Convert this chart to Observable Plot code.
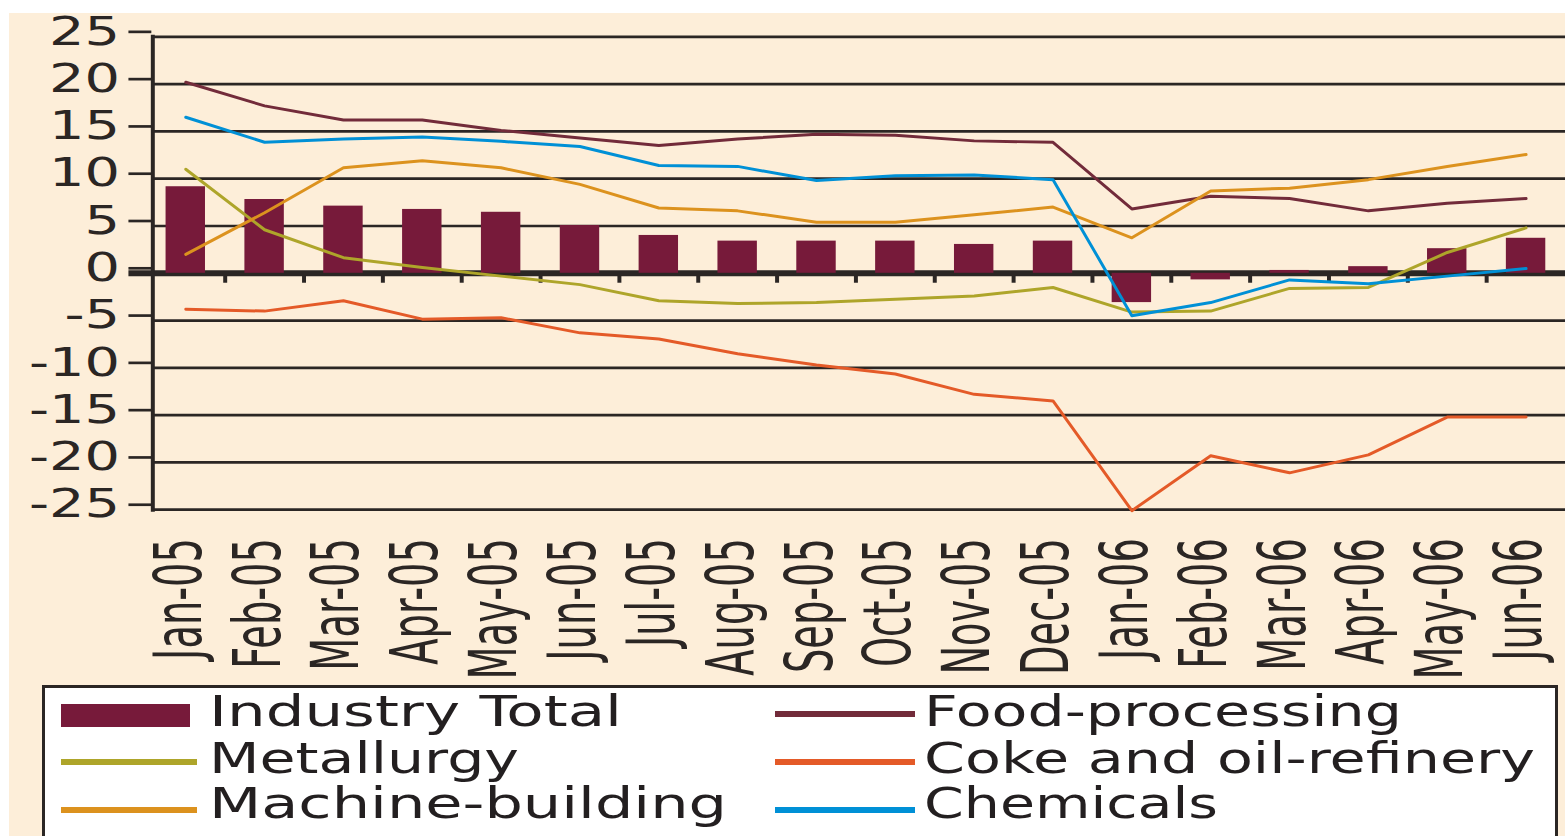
<!DOCTYPE html>
<html><head><meta charset="utf-8">
<script src="https://cdn.jsdelivr.net/npm/d3@7"></script>
<script src="https://cdn.jsdelivr.net/npm/@observablehq/plot@0.6"></script>
<style>
html,body{margin:0;padding:0;background:#fff;overflow:hidden;width:1565px;height:836px;}
#bg{position:absolute;left:9px;top:13px;width:1556px;height:823px;background:#fdeed9;}
#chart{position:absolute;left:0;top:0;}
#legend{position:absolute;left:0;top:0;}
</style></head><body>
<div id="bg"></div><div id="chart"></div><svg id="legend"></svg>
<script>
const months = ["Jan-05","Feb-05","Mar-05","Apr-05","May-05","Jun-05","Jul-05","Aug-05","Sep-05","Oct-05","Nov-05","Dec-05","Jan-06","Feb-06","Mar-06","Apr-06","May-06","Jun-06"];
const industryTotal = [9.15, 7.8, 7.1, 6.75, 6.45, 5.05, 4.0, 3.4, 3.4, 3.4, 3.05, 3.4, -3.1, -0.7, 0.3, 0.7, 2.6, 3.7];
const foodProcessing = [20.2, 17.7, 16.2, 16.2, 15.1, 14.3, 13.5, 14.2, 14.7, 14.6, 14.0, 13.85, 6.8, 8.15, 7.9, 6.6, 7.4, 7.9];
const metallurgy = [11.0, 4.6, 1.65, 0.6, -0.3, -1.2, -2.9, -3.2, -3.1, -2.75, -2.4, -1.5, -4.1, -4.0, -1.6, -1.5, 2.2, 4.8];
const cokeOil = [-3.8, -4.0, -2.9, -4.85, -4.7, -6.3, -6.95, -8.5, -9.7, -10.65, -12.8, -13.5, -25.1, -19.3, -21.1, -19.2, -15.2, -15.2];
const machineBuilding = [2.0, 6.4, 11.15, 11.9, 11.15, 9.4, 6.9, 6.6, 5.4, 5.4, 6.2, 7.0, 3.75, 8.7, 9.0, 9.9, 11.3, 12.55];
const chemicals = [16.5, 13.85, 14.2, 14.4, 13.95, 13.4, 11.4, 11.3, 9.8, 10.3, 10.4, 9.9, -4.5, -3.1, -0.7, -1.1, -0.3, 0.5];
const yTicks = [-25, -20, -15, -10, -5, 0, 5, 10, 15, 20, 25];

const seriesNames = ["Food-processing", "Metallurgy", "Coke and oil-refinery", "Machine-building", "Chemicals"];
const seriesValues = [foodProcessing, metallurgy, cokeOil, machineBuilding, chemicals];
const seriesColors = ["#722b3a", "#aea52a", "#e45a28", "#dc921e", "#0090d6"];
const barName = "Industry Total";
const barColor = "#771a3a";
const ink = "#2b2624";

const rows = [];
seriesValues.forEach((vals, s) => vals.forEach((v, i) => rows.push({month: months[i], value: v, series: seriesNames[s]})));
const bars = months.map((m, i) => ({month: m, value: industryTotal[i]}));

const xRange = [146.5, 1572];
const step = (xRange[1] - xRange[0]) / months.length;

const chart = Plot.plot({
  width: 1572, height: 680,
  marginLeft: 152, marginRight: 0, marginTop: 36.5, marginBottom: 168.5,
  style: {background: "transparent", fontFamily: "DejaVu Sans", color: ink, overflow: "visible"},
  x: {type: "band", domain: months, range: xRange, paddingInner: 0.5, paddingOuter: 0.25, round: false},
  y: {domain: [-25, 25]},
  color: {domain: seriesNames, range: seriesColors},
  marks: [
    Plot.gridY(yTicks, {stroke: ink, strokeOpacity: 1, strokeWidth: 2.7}),
    Plot.axisY(yTicks, {tickSize: 23, tickPadding: 9, fontSize: 40, strokeWidth: 2.7, stroke: ink, fill: ink, tickFormat: d => String(d), dy: -5, label: null}),
    Plot.ruleY([0], {stroke: ink, strokeWidth: 6, insetLeft: -23}),
    Plot.ruleX(months.slice(1), {x: d => d, y1: 0, y2: 0, dx: -step / 2, insetTop: 3, insetBottom: -10, stroke: ink, strokeWidth: 4}),
    Plot.frame({anchor: "left", stroke: ink, strokeWidth: 4, dx: 1}),
    Plot.barY(bars, {x: "month", y: "value", fill: barColor}),
    Plot.lineY(rows, {x: "month", y: "value", stroke: "series", z: "series", strokeWidth: 3, curve: "linear", strokeLinejoin: "round"}),
    Plot.axisX({tickSize: 0, tickPadding: 28.5, tickRotate: -90, fontSize: 47, dx: -6, fill: ink, label: null})
  ]
});
document.getElementById("chart").appendChild(chart);

// stretch tick labels like the reference
d3.select(chart).selectAll('g[aria-label="x-axis tick label"] text').each(function() {
  const t = this.getAttribute("transform") || "";
  this.setAttribute("transform", t + " scale(0.82,1.4)");
});
d3.select(chart).selectAll('g[aria-label="y-axis tick label"] text').each(function() {
  const t = this.getAttribute("transform") || "";
  this.setAttribute("transform", t + " scale(1.4,1)");
});

// legend
const lg = d3.select("#legend").attr("width", 1565).attr("height", 836);
lg.append("rect").attr("x", 43.5).attr("y", 686.5).attr("width", 1513).attr("height", 220)
  .attr("fill", "#fff").attr("stroke", ink).attr("stroke-width", 3);
const legendNames = [barName, "Food-processing", "Metallurgy", "Coke and oil-refinery", "Machine-building", "Chemicals"];
const legendColors = [barColor, seriesColors[0], seriesColors[1], seriesColors[2], seriesColors[3], seriesColors[4]];
const textWidths = {"Industry Total": 413, "Food-processing": 478, "Metallurgy": 310, "Coke and oil-refinery": 611, "Machine-building": 518, "Chemicals": 294};
const colX = [61, 775], colLen = [136, 140], colText = [209, 924];
const rowY = [714, 762, 810], rowBase = [726, 773, 818];
legendNames.forEach((name, k) => {
  const c = k % 2, r = Math.floor(k / 2);
  if (k === 0) {
    lg.append("rect").attr("x", 61).attr("y", 704).attr("width", 129).attr("height", 23).attr("fill", legendColors[k]);
  } else {
    lg.append("line").attr("x1", colX[c]).attr("x2", colX[c] + colLen[c]).attr("y1", rowY[r]).attr("y2", rowY[r])
      .attr("stroke", legendColors[k]).attr("stroke-width", 6);
  }
  lg.append("text").attr("x", colText[c]).attr("y", rowBase[r]).attr("font-family", "DejaVu Sans").attr("font-size", 42)
    .attr("fill", "#231f20").attr("textLength", textWidths[name]).attr("lengthAdjust", "spacingAndGlyphs").text(name);
});
</script>
</body></html>
